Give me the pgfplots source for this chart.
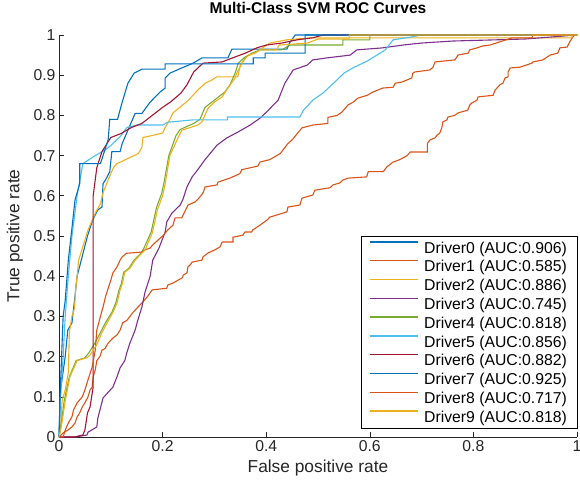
\documentclass[border=0pt]{standalone}
\usepackage{fontspec}
\setmainfont{Liberation Sans}
\usepackage{pgfplots}
\pgfplotsset{compat=1.18}
\definecolor{mlblue}{rgb}{0,0.447,0.741}
\definecolor{mlorange}{rgb}{0.85,0.325,0.098}
\definecolor{mlyellow}{rgb}{0.929,0.694,0.125}
\definecolor{mlpurple}{rgb}{0.494,0.184,0.556}
\definecolor{mlgreen}{rgb}{0.466,0.674,0.188}
\definecolor{mlcyan}{rgb}{0.301,0.745,0.933}
\definecolor{mlred}{rgb}{0.635,0.078,0.184}
\definecolor{axc}{rgb}{0.15,0.15,0.15}
\begin{document}
\begin{tikzpicture}
\begin{axis}[
  at={(0,0)}, anchor=south west,
  width=518bp, height=402bp, scale only axis,
  xmin=0, xmax=1, ymin=0, ymax=1,
  axis lines=left,
  axis line style={-, draw=axc, line width=0.6bp},
  tick align=inside, major tick length=5bp,
  tick style={draw=axc, line width=0.6bp},
  xtick={0,0.2,0.4,0.6,0.8,1},
  ytick={0,0.1,0.2,0.3,0.4,0.5,0.6,0.7,0.8,0.9,1},
  /pgf/number format/assume math mode=true,
  ticklabel style={font=\fontsize{15.8}{18}\selectfont, text=axc},
  xlabel={False positive rate},
  ylabel={True positive rate},
  label style={font=\fontsize{17.4}{20}\selectfont, text=axc},
  xlabel style={at={(axis description cs:0.5,-0.077)}, anchor=center},
  ylabel style={at={(axis description cs:-0.085,0.5)}, anchor=center},
  title={Multi-Class SVM ROC Curves},
  title style={at={(axis description cs:0.5,1.052)}, anchor=center, font=\fontsize{15.6}{18}\selectfont\bfseries},
  clip=false,
  legend cell align=left,
  legend image code/.code={\path (0bp,0bp); \draw[#1, line width=1.4bp] (4bp,5.5bp) -- (52bp,5.5bp);},
  legend style={at={(axis description cs:1,0.0224)}, anchor=south east,
    fill=white, inner xsep=4bp, inner ysep=1.8bp,
    row sep=0pt,
    font=\fontsize{15.8}{18}\selectfont,
    nodes={inner xsep=6bp, inner ysep=0pt, text height=15.1bp, text depth=3.7bp}},
  every legend/.append style={draw=axc, line width=0.8bp},
]
% Driver0
\addplot[color=mlblue, line width=1.1bp] coordinates {(0,0) (0.003,0.117) (0.012,0.2) (0.017,0.266) (0.025,0.284) (0.03,0.34) (0.035,0.4) (0.045,0.45) (0.055,0.5) (0.065,0.54) (0.075,0.565) (0.083,0.572) (0.085,0.63) (0.09,0.64) (0.098,0.66) (0.102,0.71) (0.118,0.71) (0.122,0.73) (0.147,0.805) (0.16,0.805) (0.176,0.833) (0.195,0.858) (0.205,0.868) (0.205,0.893) (0.214,0.905) (0.237,0.918) (0.259,0.93) (0.276,0.943) (0.326,0.943) (0.334,0.965) (0.44,0.965) (0.445,0.98) (0.456,1) (1,1)};
\addlegendentry{Driver0 (AUC:0.906)}
% Driver1
\addplot[color=mlorange, line width=1.1bp] coordinates {(0,0) (0.008,0.01) (0.017,0.017) (0.025,0.025) (0.031,0.035) (0.035,0.05) (0.04,0.06) (0.045,0.075) (0.05,0.085) (0.056,0.1) (0.06,0.117) (0.064,0.124) (0.066,0.15) (0.07,0.167) (0.073,0.19) (0.079,0.2) (0.083,0.216) (0.089,0.22) (0.095,0.234) (0.104,0.246) (0.112,0.254) (0.118,0.266) (0.123,0.284) (0.131,0.29) (0.137,0.3) (0.143,0.31) (0.15,0.32) (0.156,0.328) (0.162,0.336) (0.17,0.348) (0.18,0.366) (0.208,0.37) (0.21,0.378) (0.22,0.383) (0.238,0.396) (0.24,0.403) (0.247,0.408) (0.249,0.423) (0.253,0.428) (0.257,0.435) (0.276,0.44) (0.278,0.448) (0.288,0.458) (0.3,0.465) (0.311,0.473) (0.315,0.485) (0.336,0.485) (0.336,0.497) (0.355,0.502) (0.359,0.51) (0.372,0.51) (0.374,0.515) (0.388,0.527) (0.402,0.54) (0.407,0.547) (0.44,0.56) (0.442,0.572) (0.465,0.577) (0.469,0.594) (0.49,0.602) (0.494,0.614) (0.523,0.62) (0.529,0.627) (0.542,0.632) (0.548,0.639) (0.558,0.644) (0.594,0.647) (0.597,0.66) (0.626,0.66) (0.633,0.672) (0.645,0.684) (0.658,0.69) (0.672,0.7) (0.678,0.709) (0.711,0.709) (0.711,0.73) (0.716,0.739) (0.726,0.744) (0.73,0.751) (0.735,0.756) (0.739,0.769) (0.741,0.784) (0.749,0.789) (0.751,0.796) (0.764,0.8) (0.77,0.806) (0.789,0.813) (0.793,0.826) (0.797,0.831) (0.807,0.838) (0.809,0.846) (0.838,0.85) (0.842,0.863) (0.851,0.876) (0.857,0.88) (0.861,0.893) (0.867,0.896) (0.867,0.908) (0.871,0.918) (0.89,0.92) (0.913,0.93) (0.915,0.933) (0.934,0.938) (0.948,0.95) (0.963,0.955) (0.967,0.968) (0.981,0.97) (0.986,0.983) (0.992,0.995) (0.996,1) (1,1)};
\addlegendentry{Driver1 (AUC:0.585)}
% Driver2
\addplot[color=mlyellow, line width=1.1bp] coordinates {(0,0) (0.003,0.02) (0.006,0.09) (0.012,0.117) (0.018,0.16) (0.02,0.26) (0.025,0.3) (0.03,0.32) (0.032,0.366) (0.035,0.4) (0.038,0.44) (0.05,0.49) (0.056,0.515) (0.07,0.557) (0.08,0.58) (0.085,0.607) (0.095,0.64) (0.105,0.67) (0.112,0.68) (0.153,0.705) (0.16,0.72) (0.162,0.745) (0.18,0.75) (0.2,0.756) (0.205,0.77) (0.214,0.79) (0.22,0.806) (0.25,0.838) (0.268,0.863) (0.282,0.88) (0.295,0.888) (0.305,0.896) (0.345,0.896) (0.35,0.925) (0.36,0.945) (0.382,0.958) (0.407,0.98) (0.44,0.988) (0.485,0.993) (0.99,0.993) (0.99,1) (1,1)};
\addlegendentry{Driver2 (AUC:0.886)}
% Driver3
\addplot[color=mlpurple, line width=1.1bp] coordinates {(0,0) (0.031,0) (0.054,0.005) (0.056,0.012) (0.073,0.025) (0.075,0.047) (0.085,0.097) (0.094,0.11) (0.104,0.124) (0.112,0.15) (0.118,0.172) (0.127,0.19) (0.131,0.21) (0.137,0.234) (0.147,0.266) (0.152,0.29) (0.16,0.323) (0.166,0.36) (0.176,0.4) (0.181,0.44) (0.193,0.47) (0.205,0.51) (0.208,0.535) (0.218,0.557) (0.234,0.577) (0.239,0.59) (0.247,0.622) (0.257,0.647) (0.265,0.66) (0.282,0.69) (0.305,0.726) (0.324,0.744) (0.346,0.759) (0.369,0.776) (0.388,0.793) (0.402,0.81) (0.423,0.838) (0.436,0.88) (0.452,0.913) (0.479,0.925) (0.49,0.938) (0.517,0.943) (0.562,0.95) (0.575,0.963) (0.625,0.968) (0.664,0.975) (0.7,0.98) (0.76,0.985) (0.9,0.99) (0.98,0.998) (1,1)};
\addlegendentry{Driver3 (AUC:0.745)}
% Driver4
\addplot[color=mlgreen, line width=1.1bp] coordinates {(0,0) (0.004,0.03) (0.01,0.09) (0.02,0.15) (0.033,0.19) (0.05,0.197) (0.058,0.21) (0.07,0.235) (0.08,0.26) (0.09,0.285) (0.102,0.31) (0.11,0.335) (0.116,0.366) (0.12,0.38) (0.125,0.41) (0.135,0.42) (0.145,0.44) (0.158,0.457) (0.164,0.47) (0.178,0.51) (0.183,0.54) (0.188,0.57) (0.198,0.605) (0.203,0.635) (0.212,0.7) (0.226,0.75) (0.234,0.765) (0.26,0.78) (0.272,0.79) (0.282,0.82) (0.305,0.843) (0.32,0.858) (0.33,0.876) (0.34,0.905) (0.346,0.93) (0.359,0.945) (0.373,0.955) (0.388,0.963) (0.43,0.963) (0.446,0.975) (0.548,0.975) (0.548,0.988) (0.6,0.988) (0.6,1) (1,1)};
\addlegendentry{Driver4 (AUC:0.818)}
% Driver5
\addplot[color=mlcyan, line width=1.1bp] coordinates {(0,0) (0.003,0.1) (0.008,0.2) (0.012,0.3) (0.018,0.4) (0.025,0.5) (0.035,0.6) (0.046,0.68) (0.07,0.7) (0.089,0.714) (0.1,0.725) (0.12,0.75) (0.131,0.77) (0.15,0.776) (0.2,0.776) (0.21,0.783) (0.26,0.789) (0.325,0.789) (0.325,0.796) (0.465,0.796) (0.472,0.813) (0.49,0.838) (0.51,0.856) (0.53,0.88) (0.55,0.905) (0.57,0.92) (0.595,0.935) (0.62,0.955) (0.63,0.963) (0.645,0.988) (0.68,0.995) (0.7,1) (1,1)};
\addlegendentry{Driver5 (AUC:0.856)}
% Driver6
\addplot[color=mlred, line width=1.1bp] coordinates {(0,0) (0.03,0) (0.046,0.005) (0.05,0.017) (0.055,0.06) (0.06,0.075) (0.063,0.1) (0.066,0.124) (0.066,0.6) (0.07,0.64) (0.073,0.67) (0.083,0.71) (0.1,0.745) (0.12,0.755) (0.14,0.77) (0.16,0.78) (0.18,0.8) (0.2,0.82) (0.215,0.833) (0.235,0.855) (0.247,0.876) (0.26,0.908) (0.278,0.93) (0.315,0.933) (0.335,0.943) (0.36,0.955) (0.382,0.968) (0.4,0.975) (0.43,0.98) (0.46,0.988) (0.49,0.993) (0.51,1) (1,1)};
\addlegendentry{Driver6 (AUC:0.882)}
% Driver7
\addplot[color=mlblue, line width=1.1bp] coordinates {(0,0) (0.002,0.1) (0.005,0.2) (0.008,0.3) (0.012,0.34) (0.018,0.44) (0.025,0.52) (0.031,0.59) (0.04,0.63) (0.04,0.68) (0.08,0.68) (0.085,0.7) (0.095,0.74) (0.098,0.79) (0.113,0.79) (0.122,0.833) (0.133,0.88) (0.145,0.905) (0.16,0.915) (0.205,0.915) (0.205,0.928) (0.375,0.928) (0.375,0.943) (0.398,0.943) (0.398,0.955) (0.475,0.955) (0.475,1) (1,1)};
\addlegendentry{Driver7 (AUC:0.925)}
% Driver8
\addplot[color=mlorange, line width=1.1bp] coordinates {(0,0) (0.008,0) (0.012,0.017) (0.018,0.035) (0.025,0.05) (0.028,0.067) (0.035,0.085) (0.045,0.1) (0.05,0.117) (0.056,0.142) (0.064,0.174) (0.07,0.216) (0.073,0.266) (0.08,0.3) (0.085,0.323) (0.09,0.35) (0.095,0.37) (0.1,0.39) (0.104,0.408) (0.112,0.423) (0.118,0.44) (0.122,0.448) (0.13,0.457) (0.16,0.46) (0.165,0.465) (0.176,0.47) (0.181,0.478) (0.2,0.5) (0.21,0.515) (0.22,0.527) (0.224,0.545) (0.237,0.545) (0.249,0.577) (0.263,0.585) (0.27,0.594) (0.278,0.607) (0.282,0.622) (0.305,0.627) (0.307,0.634) (0.33,0.644) (0.349,0.655) (0.353,0.665) (0.384,0.674) (0.388,0.684) (0.407,0.69) (0.427,0.705) (0.442,0.73) (0.45,0.739) (0.469,0.769) (0.49,0.776) (0.519,0.78) (0.519,0.795) (0.537,0.8) (0.546,0.808) (0.558,0.826) (0.568,0.833) (0.577,0.843) (0.595,0.85) (0.606,0.858) (0.625,0.868) (0.645,0.87) (0.649,0.88) (0.662,0.883) (0.681,0.893) (0.683,0.905) (0.687,0.908) (0.716,0.913) (0.722,0.92) (0.726,0.933) (0.764,0.938) (0.768,0.945) (0.77,0.95) (0.79,0.955) (0.793,0.963) (0.807,0.968) (0.819,0.973) (0.832,0.975) (0.875,0.993) (0.913,0.993) (0.915,1) (1,1)};
\addlegendentry{Driver8 (AUC:0.717)}
% Driver9
\addplot[color=mlyellow, line width=1.1bp] coordinates {(0,0) (0.005,0.03) (0.012,0.09) (0.021,0.15) (0.035,0.19) (0.054,0.197) (0.06,0.204) (0.073,0.23) (0.083,0.26) (0.093,0.284) (0.104,0.31) (0.112,0.333) (0.118,0.366) (0.122,0.38) (0.127,0.41) (0.137,0.42) (0.147,0.44) (0.16,0.457) (0.166,0.465) (0.18,0.507) (0.185,0.535) (0.19,0.565) (0.2,0.6) (0.205,0.63) (0.214,0.7) (0.23,0.745) (0.237,0.763) (0.268,0.776) (0.276,0.784) (0.288,0.818) (0.3,0.833) (0.315,0.846) (0.326,0.868) (0.34,0.893) (0.344,0.908) (0.355,0.933) (0.365,0.95) (0.378,0.955) (0.388,0.963) (0.42,0.963) (0.425,0.975) (0.48,0.98) (0.5,0.99) (0.56,0.99) (0.56,1) (1,1)};
\addlegendentry{Driver9 (AUC:0.818)}
\end{axis}
\pgfresetboundingbox
\path (-59bp,-48bp) rectangle (521bp,437bp);
\end{tikzpicture}
\end{document}
